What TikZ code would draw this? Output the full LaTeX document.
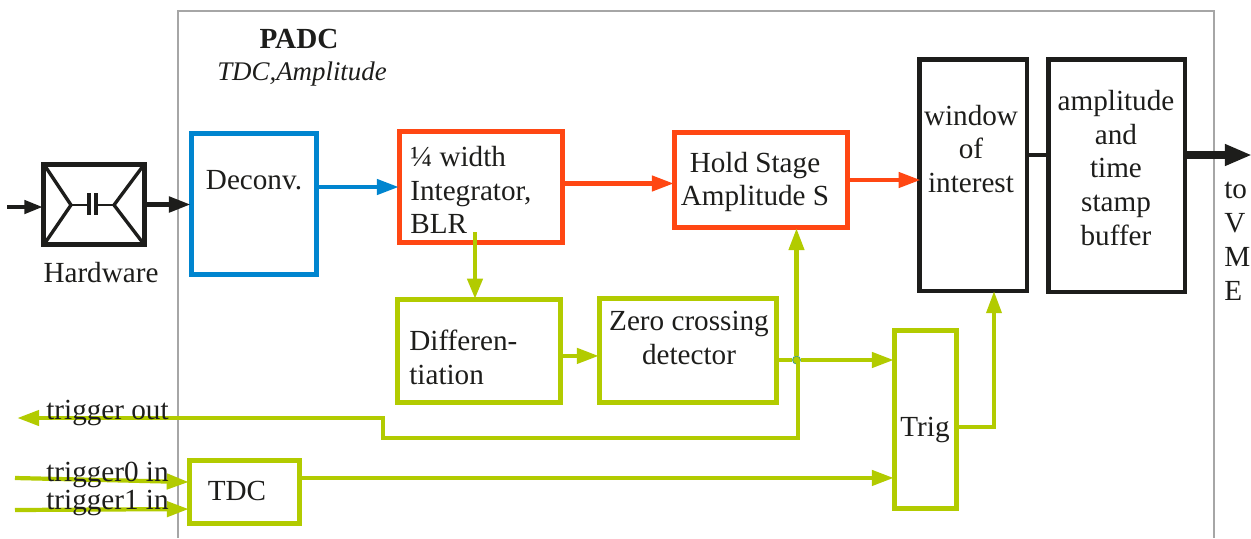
\documentclass[tikz,border=0pt]{standalone}
\usepackage{fontspec}
\setmainfont{Liberation Serif}
\usetikzlibrary{arrows.meta}
\definecolor{padcgreen}{HTML}{B2CB00}
\definecolor{padcred}{HTML}{FF4713}
\definecolor{padcblue}{HTML}{0085CF}
\definecolor{padcink}{HTML}{1D1D1B}
\definecolor{padcframe}{HTML}{A6A6A6}
\tikzset{
    boxsize/.style 2 args={minimum width=#1*0.02cm, minimum height=#2*0.02cm},
    greenbox/.style={draw=padcgreen, line width=2.85pt, inner sep=0pt},
    redbox/.style={draw=padcred, line width=2.85pt, inner sep=0pt},
    bluebox/.style={draw=padcblue, line width=2.85pt, inner sep=0pt},
    blackbox/.style={draw=padcink, line width=2.56pt, inner sep=0pt},
    boxtext/.style={font=\fontsize{16.6}{19.3}\selectfont, text=padcink, inner sep=0pt, align=center},
    lefttext/.style={boxtext, align=left},
    sigtip/.style={-{Triangle[length=12.5pt,width=8.6pt]}, shorten >=-1pt},
    greenline/.style={sigtip, draw=padcgreen, line width=2.4pt},
    redline/.style={sigtip, draw=padcred, line width=2.4pt},
    blueline/.style={sigtip, draw=padcblue, line width=2.4pt},
    blackline/.style={sigtip, draw=padcink, line width=2.8pt}
}
\begin{document}
\begin{tikzpicture}[x=0.02cm, y=-0.02cm]
    \useasboundingbox (0,0) rectangle (1251,538);

    % PADC frame
    \draw[padcframe, line width=1.5pt] (178,538) -- (178,11) -- (1214,11) -- (1214,538);

    % Boxes
    \node[blackbox, line width=2.85pt, boxsize={101}{80}] (hw) at (94,204.5) {};
    \node[bluebox, boxsize={125}{141}] (deconv) at (254,204) {};
    \node[redbox, boxsize={163}{111}] (integ) at (481,187) {};
    \node[redbox, boxsize={173}{95}] (hold) at (761,180) {};
    \node[greenbox, boxsize={163}{103}] (diff) at (479,351) {};
    \node[greenbox, boxsize={177}{104}] (zero) at (688,350.5) {};
    \node[greenbox, boxsize={62}{178}] (trig) at (925.5,419.5) {};
    \node[greenbox, boxsize={110}{63}] (tdc) at (244.5,492) {};
    \node[blackbox, boxsize={107.5}{231.5}] (window) at (973,175) {};
    \node[blackbox, boxsize={136.5}{232.5}] (buffer) at (1116.5,175.5) {};

    % Hardware symbol
    \coordinate (hwleft) at (71,205);
    \coordinate (hwright) at (114,205);
    \draw[padcink, line width=1.9pt] ([shift={(4,4)}]hw.north west) -- (hwleft) -- ([shift={(4,-4)}]hw.south west);
    \draw[padcink, line width=1.9pt] ([shift={(-4,4)}]hw.north east) -- (hwright) -- ([shift={(-4,-4)}]hw.south east);
    \draw[padcink, line width=0.9pt] (hwleft) -- (89,205);
    \draw[padcink, line width=0.9pt] (96,205) -- (hwright);
    \draw[padcink, line width=2.2pt] (89,193) -- (89,215);
    \draw[padcink, line width=2.2pt] (96,193) -- (96,215);

    % Free ends
    \coordinate (hwin) at (7,207);
    \coordinate (integdrop) at (475,232);
    \coordinate (outstep) at (383,438);
    \coordinate (trigout) at (19,418);
    \coordinate (trigzero) at (15,478);
    \coordinate (trigone) at (15,510);
    \coordinate (winin) at (994,293);
    \coordinate (vme) at (1252,155);

    % Black signal path
    \draw[blackline, line width=2.3pt, -{Triangle[length=10.5pt,width=7.5pt]}] (hwin) -- (hwin -| hw.west);
    \draw[blackline] (hw.east) -- (hw.east -| deconv.west);
    \draw[padcink, line width=2.2pt] ([yshift=11.4pt]window.east) -- ([yshift=11.4pt]window.east -| buffer.west);
    \draw[padcink, line width=5pt, -{Triangle[length=15.4pt,width=11.4pt]}] (buffer.east |- vme) -- (vme);

    % Amplitude path
    \draw[blueline] (deconv.east |- integ.west) -- (integ.west);
    \draw[redline] ([yshift=2pt]integ.east) -- ([yshift=2pt]integ.east -| hold.west);
    \draw[redline] (hold.east) -- ([xshift=1pt]hold.east -| window.west);

    % Trigger path
    \node[circle, draw=padcblue!60!padcgreen, fill=padcgreen, line width=0.5pt, inner sep=0pt, minimum size=4.5pt] (junction) at (796.5,360) {};
    \draw[greenline, -{Triangle[length=11.5pt,width=8.6pt]}] (integdrop) -- (integdrop |- diff.north);
    \draw[greenline] ([yshift=-2.8pt]diff.east) -- ([yshift=-2.8pt]diff.east -| zero.west);
    \draw[padcgreen, line width=2.4pt] (zero.east |- junction) -- (junction);
    \draw[greenline] (junction) -- (junction -| trig.west);
    \draw[greenline] (junction) -- (junction |- hold.south);
    \draw[greenline] ([xshift=0.8pt]junction.center) |- (outstep) |- (trigout);
    \draw[greenline] (trigzero) -- ([yshift=5.7pt]tdc.west);
    \draw[greenline] (trigone) -- ([yshift=-9.7pt]tdc.west);
    \draw[greenline] ([yshift=8pt]tdc.east) -- ([yshift=8pt]tdc.east -| trig.west);
    \draw[greenline, line width=2pt] ([yshift=-4.3pt]trig.east) -| (winin);

    % Texts
    \node[boxtext, font=\fontsize{16.6}{19.3}\selectfont\bfseries] (padctitle) at (299,39) {PADC};
    \node[boxtext, font=\fontsize{15.3}{19.3}\selectfont\itshape] (padcsub) at (302,74) {TDC,Amplitude};
    \node[boxtext] (hwtext) at (101,273) {Hardware};
    \node[boxtext] (deconvtext) at (254,180) {Deconv.};
    \node[lefttext, anchor=west] (integtext) at (410,190) {¼ width\\Integrator,\\BLR};
    \node[boxtext] (holdtext) at (755,182) {Hold Stage\\Amplitude S};
    \node[lefttext, anchor=west] (difftext) at (409,357) {Differen-\\tiation};
    \node[boxtext] (zerotext) at (689,338) {Zero crossing\\detector};
    \node[boxtext] (trigtext) at (925,430) {Trig};
    \node[boxtext] (tdctext) at (237,491) {TDC};
    \node[boxtext] (windowtext) at (971,149) {window\\of\\interest};
    \node[boxtext] (buffertext) at (1116,168) {amplitude\\and\\time\\stamp\\buffer};
    \node[lefttext, anchor=west] (vmetext) at (1224,241) {to\\V\\M\\E};
    \node[lefttext, anchor=west] (outtext) at (46,413) {trigger out};
    \node[lefttext, anchor=west] (zerointext) at (46,475) {trigger0 in};
    \node[lefttext, anchor=west] (oneintext) at (46,503) {trigger1 in};
\end{tikzpicture}
\end{document}
